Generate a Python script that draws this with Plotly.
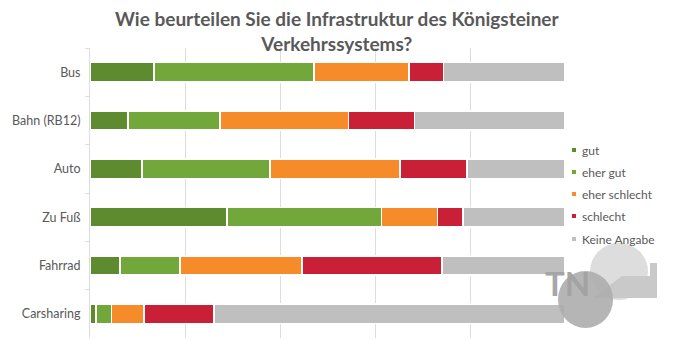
import plotly.graph_objects as go

categories = ["Bus", "Bahn (RB12)", "Auto", "Zu Fuß", "Fahrrad", "Carsharing"]
series_names = ["gut", "eher gut", "eher schlecht", "schlecht", "Keine Angabe"]
gut = [13.5, 8.0, 10.9, 28.8, 6.3, 1.3]
eher_gut = [33.7, 19.4, 27.0, 32.6, 12.6, 3.2]
eher_schlecht = [20.0, 27.0, 27.4, 11.8, 25.7, 6.9]
schlecht = [7.2, 13.9, 14.1, 5.3, 29.5, 14.7]
keine_angabe = [25.6, 31.7, 20.6, 21.5, 25.9, 73.9]
colors = ["#5E8A30", "#72A83B", "#F68B29", "#C92038", "#BFBFBF"]

values = [gut, eher_gut, eher_schlecht, schlecht, keine_angabe]
FONT = "Lato"
TXT = "#595959"
W, H = 674, 340
L, R, T, B = 90, 565, 48, 338


def px(x):
    return (x - L) / (R - L)


def py(y):
    return 1 - (y - T) / (B - T)


fig = go.Figure()
for name, vals, col in zip(series_names, values, colors):
    fig.add_trace(go.Bar(
        y=categories, x=vals, name=name, orientation="h",
        marker=dict(color=col, line=dict(color="white", width=1.5)),
        width=0.4, showlegend=False, hoverinfo="x+name",
    ))

# manual legend (small square markers close to text)
leg_y = [150, 172, 194, 216, 239]
for name, col, yy in zip(series_names, colors, leg_y):
    fig.add_shape(type="rect", xref="paper", yref="paper",
                  x0=px(572), x1=px(576), y0=py(yy + 2), y1=py(yy - 2),
                  fillcolor=col, line=dict(width=0))
    fig.add_annotation(text=name, xref="paper", yref="paper",
                       x=px(580), y=py(yy), xanchor="left", yanchor="middle",
                       showarrow=False, font=dict(family=FONT, size=12, color=TXT))

# watermark logo (decorative)
fig.add_shape(type="circle", xref="paper", yref="paper",
              x0=px(590), x1=px(648), y0=py(300), y1=py(243),
              fillcolor="#D9D9D9", line=dict(width=0), layer="above", opacity=0.9)
fig.add_shape(type="path", xref="paper", yref="paper",
              path="M {a},{b} L {c},{d} L {e},{d} L {e},{f} L {g},{f} L {g},{b} Z".format(
                  a=px(593), b=py(298), c=px(622), d=py(276),
                  e=px(650), f=py(263), g=px(657)),
              fillcolor="#C9C9C9", line=dict(width=0), layer="above")
fig.add_shape(type="circle", xref="paper", yref="paper",
              x0=px(558), x1=px(613), y0=py(328), y1=py(271),
              fillcolor="#ADADAD", line=dict(width=0), layer="above", opacity=0.9)
fig.add_annotation(text="<b>TN</b>", xref="paper", yref="paper",
                   x=px(567), y=py(283),
                   showarrow=False, font=dict(family=FONT, size=33, color="#A3A3A3"),
                   xanchor="center", yanchor="middle", opacity=0.95)

# title
fig.add_annotation(text="<b>Wie beurteilen Sie die Infrastruktur des Königsteiner<br>Verkehrssystems?</b>",
                   xref="paper", yref="paper", x=px(337), y=py(31),
                   xanchor="center", yanchor="middle", showarrow=False,
                   font=dict(family=FONT, size=19, color=TXT))

fig.update_layout(
    width=W, height=H,
    margin=dict(l=L, r=W - R, t=T, b=H - B),
    barmode="stack",
    bargap=0.6,
    showlegend=False,
    paper_bgcolor="white", plot_bgcolor="white",
    font=dict(family=FONT, color=TXT, size=12),
    xaxis=dict(range=[0, 100], dtick=20, showticklabels=False,
               showgrid=True, gridcolor="#DDDDDD", gridwidth=1,
               zeroline=False, showline=False, fixedrange=True),
    yaxis=dict(autorange="reversed", showgrid=False,
               showline=True, linecolor="#DDDDDD", linewidth=1,
               ticks="outside", tickson="boundaries", ticklen=4, tickcolor="#DDDDDD",
               ticklabelstandoff=6,
               tickfont=dict(family=FONT, size=12.5, color=TXT)),
)

fig.write_html("out.html")
